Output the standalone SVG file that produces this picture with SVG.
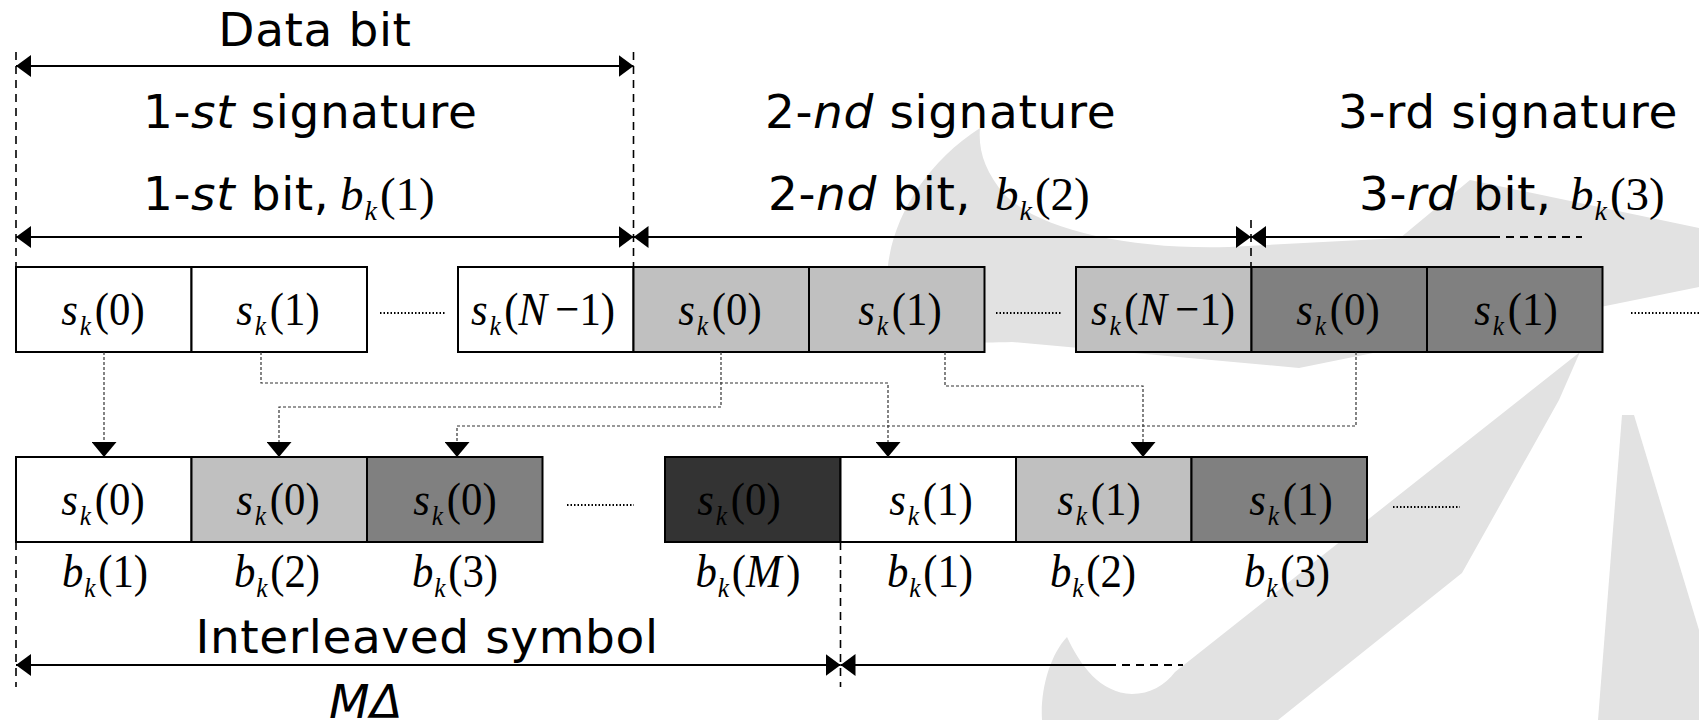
<svg xmlns="http://www.w3.org/2000/svg" width="1699" height="720" viewBox="0 0 1699 720">
  <defs>
    <marker id="dimHead" viewBox="0 0 15 22" refX="15" refY="11" markerWidth="15" markerHeight="22" markerUnits="userSpaceOnUse" orient="auto-start-reverse">
      <path d="M0,0 L15,11 L0,22 Z" fill="#000"/>
    </marker>
    <marker id="dropHead" viewBox="0 0 15 25" refX="15" refY="12.5" markerWidth="15" markerHeight="25" markerUnits="userSpaceOnUse" orient="auto">
      <path d="M0,0 L15,12.5 L0,25 Z" fill="#000"/>
    </marker>
    <style>
      .sans{font-family:"DejaVu Sans",Verdana,sans-serif;font-size:47px;letter-spacing:0.6px;fill:#000}
      .math{font-family:"Liberation Serif","Times New Roman",serif;font-size:47px;fill:#000}
      .it{font-style:italic}
      .sub{font-style:italic;font-size:28px}
      .box{stroke:#000;stroke-width:2}
      .white{fill:#fff}
      .lgray{fill:#c0c0c0}
      .mgray{fill:#808080}
      .dgray{fill:#333}
      .dim{stroke:#000;stroke-width:2;fill:none}
      .open{stroke:#000;stroke-width:2;stroke-dasharray:8 6;fill:none}
      .guide{stroke:#000;stroke-width:1.6;stroke-dasharray:8 6;fill:none}
      .ellipsis{stroke:#000;stroke-width:2;stroke-dasharray:1.5 2;fill:none}
      .link{stroke:#333;stroke-width:1.2;stroke-dasharray:3 2;fill:none}
      .wm{fill:#e2e2e2}
    </style>
  </defs>

  <rect x="0" y="0" width="1699" height="720" fill="#fff"/>

  <!-- faint background emblem -->
  <g id="emblem">
    <path class="wm" d="M980,128 C915,170 880,240 888,300 C893,335 930,345 1012,342 L1299,368 L1699,287 L1699,228 L1470,180 L1400,238 L1229,247 C1130,250 1040,230 1005,195 C985,172 978,150 980,128 Z"/>
    <path class="wm" d="M1580,352 L1559,400 L1462,573 L1278,720 L1042,720 C1040,690 1050,655 1067,637 C1080,665 1100,693 1132,694 C1150,694 1165,685 1175,672 Z"/>
    <path class="wm" d="M1622,415 L1634,415 L1699,630 L1699,720 L1598,720 Z"/>
  </g>

  <!-- extent markers -->
  <g id="extents">
    <line class="guide" x1="16" y1="52" x2="16" y2="267"/>
    <line class="guide" x1="633.5" y1="52" x2="633.5" y2="267"/>
    <line class="guide" x1="1251" y1="220" x2="1251" y2="267"/>
    <line class="guide" x1="16" y1="542" x2="16" y2="687"/>
    <line class="guide" x1="840.5" y1="542" x2="840.5" y2="687"/>

    <line class="dim" x1="16" y1="66" x2="633.5" y2="66" marker-start="url(#dimHead)" marker-end="url(#dimHead)"/>
    <line class="dim" x1="16" y1="237" x2="633.5" y2="237" marker-start="url(#dimHead)" marker-end="url(#dimHead)"/>
    <line class="dim" x1="633.5" y1="237" x2="1251" y2="237" marker-start="url(#dimHead)" marker-end="url(#dimHead)"/>
    <line class="dim" x1="1251" y1="237" x2="1492" y2="237" marker-start="url(#dimHead)"/>
    <line class="open" x1="1492" y1="237" x2="1582" y2="237"/>
    <line class="dim" x1="16" y1="665" x2="840.5" y2="665" marker-start="url(#dimHead)" marker-end="url(#dimHead)"/>
    <line class="dim" x1="840.5" y1="665" x2="1108" y2="665" marker-start="url(#dimHead)"/>
    <line class="open" x1="1108" y1="665" x2="1183" y2="665"/>
  </g>

  <!-- headings -->
  <g id="headings">
    <text class="sans" x="315" y="46" text-anchor="middle">Data bit</text>
    <text class="sans" x="143" y="128">1-<tspan class="it">st</tspan> signature</text>
    <text class="sans" x="143" y="210">1-<tspan class="it">st</tspan> bit,</text>
    <text class="math" x="340" y="210"><tspan class="it">b</tspan><tspan class="sub" dx="1" dy="10">k</tspan><tspan dx="3" dy="-10">(1)</tspan></text>
    <text class="sans" x="765" y="128">2-<tspan class="it">nd</tspan> signature</text>
    <text class="sans" x="768" y="210">2-<tspan class="it">nd</tspan> bit,</text>
    <text class="math" x="995" y="210"><tspan class="it">b</tspan><tspan class="sub" dx="1" dy="10">k</tspan><tspan dx="3" dy="-10">(2)</tspan></text>
    <text class="sans" x="1338" y="128">3-rd signature</text>
    <text class="sans" x="1359" y="210">3-<tspan class="it">rd</tspan> bit,</text>
    <text class="math" x="1570" y="210"><tspan class="it">b</tspan><tspan class="sub" dx="1" dy="10">k</tspan><tspan dx="3" dy="-10">(3)</tspan></text>
    <text class="sans" x="427" y="653" text-anchor="middle">Interleaved symbol</text>
    <text class="sans it" x="366" y="718" text-anchor="middle">MΔ</text>
  </g>

  <!-- chip sequence of the data bits -->
  <g id="chip-1-0"><rect class="box white" x="16" y="267" width="175.5" height="85"/><text class="math" transform="translate(103,325) scale(0.91,1)" text-anchor="middle"><tspan class="it">s</tspan><tspan class="sub" dx="2" dy="10">k</tspan><tspan dx="4" dy="-10">(0)</tspan></text></g>
  <g id="chip-1-1"><rect class="box white" x="191.5" y="267" width="175.5" height="85"/><text class="math" transform="translate(278,325) scale(0.91,1)" text-anchor="middle"><tspan class="it">s</tspan><tspan class="sub" dx="2" dy="10">k</tspan><tspan dx="4" dy="-10">(1)</tspan></text></g>
  <g id="chip-1-last"><rect class="box white" x="458" y="267" width="175.5" height="85"/><text class="math" transform="translate(543,325) scale(0.91,1)" text-anchor="middle"><tspan class="it">s</tspan><tspan class="sub" dx="2" dy="10">k</tspan><tspan dx="4" dy="-10">(</tspan><tspan class="it">N</tspan><tspan dx="9">−1)</tspan></text></g>
  <g id="chip-2-0"><rect class="box lgray" x="633.5" y="267" width="175.5" height="85"/><text class="math" transform="translate(720,325) scale(0.91,1)" text-anchor="middle"><tspan class="it">s</tspan><tspan class="sub" dx="2" dy="10">k</tspan><tspan dx="4" dy="-10">(0)</tspan></text></g>
  <g id="chip-2-1"><rect class="box lgray" x="809" y="267" width="175.5" height="85"/><text class="math" transform="translate(900,325) scale(0.91,1)" text-anchor="middle"><tspan class="it">s</tspan><tspan class="sub" dx="2" dy="10">k</tspan><tspan dx="4" dy="-10">(1)</tspan></text></g>
  <g id="chip-2-last"><rect class="box lgray" x="1076" y="267" width="175.5" height="85"/><text class="math" transform="translate(1163,325) scale(0.91,1)" text-anchor="middle"><tspan class="it">s</tspan><tspan class="sub" dx="2" dy="10">k</tspan><tspan dx="4" dy="-10">(</tspan><tspan class="it">N</tspan><tspan dx="9">−1)</tspan></text></g>
  <g id="chip-3-0"><rect class="box mgray" x="1251.5" y="267" width="175.5" height="85"/><text class="math" transform="translate(1338,325) scale(0.91,1)" text-anchor="middle"><tspan class="it">s</tspan><tspan class="sub" dx="2" dy="10">k</tspan><tspan dx="4" dy="-10">(0)</tspan></text></g>
  <g id="chip-3-1"><rect class="box mgray" x="1427" y="267" width="175.5" height="85"/><text class="math" transform="translate(1516,325) scale(0.91,1)" text-anchor="middle"><tspan class="it">s</tspan><tspan class="sub" dx="2" dy="10">k</tspan><tspan dx="4" dy="-10">(1)</tspan></text></g>

  <!-- interleaved chip sequence -->
  <g id="slot-1"><rect class="box white" x="16" y="457" width="175.5" height="85"/><text class="math" transform="translate(103,515) scale(0.91,1)" text-anchor="middle"><tspan class="it">s</tspan><tspan class="sub" dx="2" dy="10">k</tspan><tspan dx="4" dy="-10">(0)</tspan></text></g>
  <g id="slot-2"><rect class="box lgray" x="191.5" y="457" width="175.5" height="85"/><text class="math" transform="translate(278,515) scale(0.91,1)" text-anchor="middle"><tspan class="it">s</tspan><tspan class="sub" dx="2" dy="10">k</tspan><tspan dx="4" dy="-10">(0)</tspan></text></g>
  <g id="slot-3"><rect class="box mgray" x="367" y="457" width="175.5" height="85"/><text class="math" transform="translate(455,515) scale(0.91,1)" text-anchor="middle"><tspan class="it">s</tspan><tspan class="sub" dx="2" dy="10">k</tspan><tspan dx="4" dy="-10">(0)</tspan></text></g>
  <g id="slot-M"><rect class="box dgray" x="665" y="457" width="175.5" height="85"/><text class="math" transform="translate(739,515) scale(0.91,1)" text-anchor="middle"><tspan class="it">s</tspan><tspan class="sub" dx="2" dy="10">k</tspan><tspan dx="4" dy="-10">(0)</tspan></text></g>
  <g id="slot-M1"><rect class="box white" x="840.5" y="457" width="175.5" height="85"/><text class="math" transform="translate(931,515) scale(0.91,1)" text-anchor="middle"><tspan class="it">s</tspan><tspan class="sub" dx="2" dy="10">k</tspan><tspan dx="4" dy="-10">(1)</tspan></text></g>
  <g id="slot-M2"><rect class="box lgray" x="1016" y="457" width="175.5" height="85"/><text class="math" transform="translate(1099,515) scale(0.91,1)" text-anchor="middle"><tspan class="it">s</tspan><tspan class="sub" dx="2" dy="10">k</tspan><tspan dx="4" dy="-10">(1)</tspan></text></g>
  <g id="slot-M3"><rect class="box mgray" x="1191.5" y="457" width="175.5" height="85"/><text class="math" transform="translate(1291,515) scale(0.91,1)" text-anchor="middle"><tspan class="it">s</tspan><tspan class="sub" dx="2" dy="10">k</tspan><tspan dx="4" dy="-10">(1)</tspan></text></g>

  <!-- bit index under each slot -->
  <g id="slot-labels">
    <text class="math" transform="translate(105,587) scale(0.91,1)" text-anchor="middle"><tspan class="it">b</tspan><tspan class="sub" dx="1" dy="10">k</tspan><tspan dx="3" dy="-10">(1)</tspan></text>
    <text class="math" transform="translate(277,587) scale(0.91,1)" text-anchor="middle"><tspan class="it">b</tspan><tspan class="sub" dx="1" dy="10">k</tspan><tspan dx="3" dy="-10">(2)</tspan></text>
    <text class="math" transform="translate(455,587) scale(0.91,1)" text-anchor="middle"><tspan class="it">b</tspan><tspan class="sub" dx="1" dy="10">k</tspan><tspan dx="3" dy="-10">(3)</tspan></text>
    <text class="math" transform="translate(748,587) scale(0.91,1)" text-anchor="middle"><tspan class="it">b</tspan><tspan class="sub" dx="1" dy="10">k</tspan><tspan dx="3" dy="-10">(</tspan><tspan class="it">M</tspan><tspan dx="5">)</tspan></text>
    <text class="math" transform="translate(930,587) scale(0.91,1)" text-anchor="middle"><tspan class="it">b</tspan><tspan class="sub" dx="1" dy="10">k</tspan><tspan dx="3" dy="-10">(1)</tspan></text>
    <text class="math" transform="translate(1093,587) scale(0.91,1)" text-anchor="middle"><tspan class="it">b</tspan><tspan class="sub" dx="1" dy="10">k</tspan><tspan dx="3" dy="-10">(2)</tspan></text>
    <text class="math" transform="translate(1287,587) scale(0.91,1)" text-anchor="middle"><tspan class="it">b</tspan><tspan class="sub" dx="1" dy="10">k</tspan><tspan dx="3" dy="-10">(3)</tspan></text>
  </g>

  <!-- omitted chips -->
  <g id="ellipses">
    <line class="ellipsis" x1="380" y1="313" x2="446" y2="313"/>
    <line class="ellipsis" x1="996" y1="313" x2="1062" y2="313"/>
    <line class="ellipsis" x1="1631" y1="313" x2="1699" y2="313"/>
    <line class="ellipsis" x1="567" y1="505" x2="634" y2="505"/>
    <line class="ellipsis" x1="1393" y1="507" x2="1460" y2="507"/>
  </g>

  <!-- interleaving paths -->
  <g id="connectors">
    <path class="link" d="M104,352 V457" marker-end="url(#dropHead)"/>
    <path class="link" d="M261,352 V383 H888 V457" marker-end="url(#dropHead)"/>
    <path class="link" d="M721,352 V407 H279 V457" marker-end="url(#dropHead)"/>
    <path class="link" d="M945,352 V386 H1143 V457" marker-end="url(#dropHead)"/>
    <path class="link" d="M1356,352 V426 H457 V457" marker-end="url(#dropHead)"/>
  </g>
</svg>
